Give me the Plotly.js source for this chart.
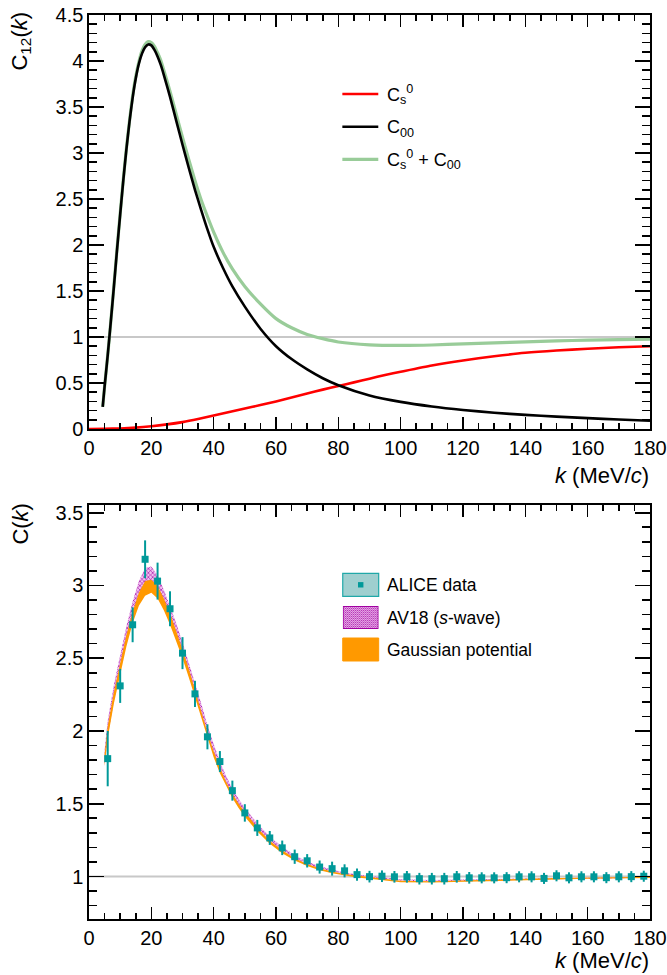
<!DOCTYPE html>
<html>
<head>
<meta charset="utf-8">
<script src="https://cdn.plot.ly/plotly-3.0.1.min.js"></script>
<style>html,body{margin:0;padding:0;background:#fff;}#chart{width:667px;height:975px;}</style>
</head>
<body>
<div id="chart"></div>
<script>
// ---------- Top panel data ----------
const topK = [4.4,5,6,7,8,9,10,11,12,13,14,15,16,17,18,19,20,21,22,23,24,26,28,30,32,34,36,38,40,43,46,50,55,60,65,70,75,80,90,100,110,120,130,140,150,160,170,180];
const c00 = [0.24,0.46,0.80,1.17,1.55,1.95,2.33,2.70,3.04,3.34,3.60,3.81,3.97,4.08,4.15,4.18,4.17,4.12,4.05,3.96,3.85,3.61,3.35,3.09,2.84,2.60,2.38,2.17,1.98,1.75,1.55,1.33,1.09,0.90,0.76,0.648,0.552,0.476,0.365,0.295,0.245,0.207,0.177,0.153,0.135,0.118,0.103,0.09];
const cSum = [0.24,0.46,0.80,1.17,1.56,1.96,2.34,2.71,3.05,3.35,3.62,3.83,3.99,4.11,4.18,4.21,4.20,4.16,4.09,4.01,3.90,3.67,3.42,3.17,2.93,2.70,2.49,2.31,2.14,1.92,1.74,1.55,1.36,1.20,1.10,1.028,0.982,0.946,0.915,0.908,0.913,0.925,0.937,0.948,0.958,0.966,0.972,0.977];
const redK = [0,5,10,15,20,25,30,35,40,45,50,55,60,65,70,75,80,85,90,95,100,110,120,130,140,150,160,170,180];
const cs0 = [0,0.002,0.006,0.015,0.03,0.05,0.075,0.108,0.146,0.185,0.222,0.26,0.30,0.342,0.385,0.428,0.467,0.507,0.547,0.587,0.622,0.69,0.745,0.79,0.828,0.853,0.872,0.888,0.90];

// ---------- Bottom panel data ----------
const bandK = [5,6,8,10,12,14,16,18,20,22,24,26,28,30,32,34,36,38,40,42,44,46,48,50,54,58,62,66,70,74,78,82,86,90,100,110,120,130,140,150,160,170,180];
const gaussLow  = [1.76,1.95,2.19,2.39,2.58,2.74,2.86,2.93,2.95,2.91,2.83,2.73,2.62,2.50,2.37,2.23,2.09,1.95,1.82,1.71,1.62,1.54,1.47,1.41,1.31,1.225,1.16,1.11,1.072,1.043,1.022,1.006,0.994,0.984,0.96,0.958,0.962,0.968,0.974,0.979,0.984,0.987,0.99];
const gaussHigh = [1.84,2.03,2.27,2.47,2.66,2.82,2.95,3.03,3.04,3.00,2.91,2.81,2.69,2.56,2.43,2.28,2.14,1.99,1.86,1.75,1.65,1.57,1.50,1.44,1.335,1.245,1.18,1.125,1.086,1.056,1.034,1.018,1.005,0.995,0.97,0.968,0.972,0.978,0.984,0.989,0.993,0.996,0.998];
const av18Low  = [1.76,1.96,2.21,2.42,2.62,2.79,2.92,3.00,3.01,2.96,2.87,2.77,2.65,2.53,2.40,2.26,2.12,1.98,1.85,1.74,1.645,1.565,1.495,1.435,1.33,1.245,1.18,1.125,1.085,1.055,1.033,1.016,1.003,0.993,0.97,0.965,0.968,0.972,0.977,0.982,0.986,0.989,0.992];
const av18High = [1.87,2.07,2.32,2.52,2.72,2.89,3.03,3.12,3.13,3.07,2.97,2.86,2.74,2.61,2.48,2.33,2.19,2.04,1.91,1.79,1.69,1.605,1.535,1.47,1.365,1.275,1.205,1.148,1.103,1.07,1.047,1.028,1.014,1.004,0.981,0.976,0.979,0.983,0.987,0.99,0.994,0.997,0.999];
const dataK = [6,10,14,18,22,26,30,34,38,42,46,50,54,58,62,66,70,74,78,82,86,90,94,98,102,106,110,114,118,122,126,130,134,138,142,146,150,154,158,162,166,170,174,178,182];
const dataC = [1.81,2.31,2.73,3.18,3.03,2.84,2.535,2.255,1.96,1.79,1.59,1.437,1.334,1.265,1.197,1.136,1.108,1.065,1.054,1.039,1.013,0.999,1.002,0.998,0.998,0.985,0.985,0.985,0.998,0.991,0.991,0.991,0.992,0.998,0.998,0.987,1.005,0.991,0.998,0.998,0.992,0.998,0.999,1.002,1.003];
const dataErr = [0.19,0.117,0.12,0.13,0.127,0.12,0.11,0.09,0.086,0.072,0.069,0.06,0.055,0.048,0.05,0.049,0.046,0.045,0.048,0.045,0.042,0.04,0.04,0.04,0.04,0.04,0.04,0.04,0.04,0.04,0.038,0.038,0.038,0.038,0.038,0.038,0.038,0.038,0.038,0.038,0.038,0.038,0.038,0.038,0.038];
const refLevel = 1;

const xTickVals = [0,20,40,60,80,100,120,140,160,180];
const topLegend = ['C<sub>s</sub><sup>0</sup>', 'C<sub>00</sub>', 'C<sub>s</sub><sup>0</sup> + C<sub>00</sub>'];
const bottomLegend = ['ALICE data', 'AV18 (<i>s</i>-wave)', 'Gaussian potential'];

// ---------- styles ----------
const FONT = 'Liberation Sans, Arial, Helvetica, sans-serif';
const TEAL = '#009999';
const ORANGE = '#ff9900';
const GREEN = '#99cc99';

function band(k, lo, hi) {
  return { x: k.concat(k.slice().reverse()), y: lo.concat(hi.slice().reverse()) };
}
const gBand = band(bandK, gaussLow, gaussHigh);
const aBand = band(bandK, av18Low, av18High);

const traces = [
  { x: topK, y: cSum, xaxis: 'x', yaxis: 'y', mode: 'lines', line: { color: GREEN, width: 3.2, shape: 'spline', smoothing: 0.6 }, showlegend: false, name: 'Cs0 + C00' },
  { x: redK, y: cs0, xaxis: 'x', yaxis: 'y', mode: 'lines', line: { color: '#ff0000', width: 2.6, shape: 'spline', smoothing: 0.6 }, showlegend: false, name: 'Cs0' },
  { x: topK, y: c00, xaxis: 'x', yaxis: 'y', mode: 'lines', line: { color: '#000000', width: 2.6, shape: 'spline', smoothing: 0.6 }, showlegend: false, name: 'C00' },
  { x: aBand.x, y: aBand.y, xaxis: 'x2', yaxis: 'y2', mode: 'lines', fill: 'toself', line: { width: 0, color: '#b030b0' },
    fillcolor: '#f0b8f0', fillpattern: { shape: 'x', fgcolor: '#a000a0', bgcolor: '#f0c0f0', size: 3, solidity: 0.35 }, showlegend: false, name: 'AV18' },
  { x: gBand.x, y: gBand.y, xaxis: 'x2', yaxis: 'y2', mode: 'lines', fill: 'toself', line: { width: 0, color: ORANGE }, fillcolor: ORANGE, showlegend: false, name: 'Gaussian' },
  { x: dataK, y: dataC, xaxis: 'x2', yaxis: 'y2', mode: 'markers', marker: { symbol: 'square', size: 7, color: TEAL },
    error_y: { type: 'data', array: dataErr, color: TEAL, thickness: 2, width: 0 }, showlegend: false, name: 'ALICE data' }
];

const L = 88.5, R = 16.5, T = 15, B = 56, W = 667, H = 975;
const PW = W - L - R, PH = H - T - B;
const px = (x) => (x - L) / PW;
const py = (y) => (H - B - y) / PH;

function xAxis(anchor) {
  return { anchor: anchor, domain: [0, 1], range: [0, 180], tickvals: xTickVals, ticks: 'inside', ticklen: 12, tickwidth: 1.6,
    tickcolor: '#000', showline: true, linewidth: 1.6, linecolor: '#000', mirror: 'ticks', showgrid: false, zeroline: false,
    tickfont: { family: FONT, size: 20, color: '#000' },
    minor: { dtick: 5, tick0: 0, ticks: 'inside', ticklen: 6, tickwidth: 1.6, tickcolor: '#000', showgrid: false } };
}
function yAxis(anchor, domain, range) {
  return { anchor: anchor, domain: domain, range: range, tick0: 0, dtick: 0.5, ticks: 'inside', ticklen: 15, tickwidth: 1.6,
    tickcolor: '#000', showline: true, linewidth: 1.6, linecolor: '#000', mirror: 'ticks', showgrid: false, zeroline: false,
    tickfont: { family: FONT, size: 20, color: '#000' },
    minor: { dtick: 0.1, tick0: 0, ticks: 'inside', ticklen: 8, tickwidth: 1.6, tickcolor: '#000', showgrid: false } };
}

const shapes = [
  { type: 'line', xref: 'x domain', yref: 'y', x0: 0, x1: 1, y0: refLevel, y1: refLevel, line: { color: '#c8c8c8', width: 2 }, layer: 'below' },
  { type: 'line', xref: 'x2 domain', yref: 'y2', x0: 0, x1: 1, y0: refLevel, y1: refLevel, line: { color: '#c8c8c8', width: 2 }, layer: 'below' }
];
// top legend lines
const topLegY = [94, 126.7, 159.3];
const topLegColors = ['#ff0000', '#000000', GREEN];
topLegY.forEach((y, i) => shapes.push({ type: 'line', xref: 'paper', yref: 'paper', x0: px(342.3), x1: px(378.3), y0: py(y), y1: py(y),
  line: { color: topLegColors[i], width: i === 2 ? 3.2 : 2.6 } }));
// bottom legend boxes
const boxTop = [573.3, 606, 638];
const boxH = 23;
shapes.push({ type: 'rect', xref: 'paper', yref: 'paper', x0: px(342.7), x1: px(378.7), y0: py(boxTop[0] + boxH), y1: py(boxTop[0]),
  fillcolor: '#9fcfcf', line: { color: '#20a8a8', width: 1.2 } });
shapes.push({ type: 'rect', xref: 'paper', yref: 'paper', x0: px(358), x1: px(363.4), y0: py(boxTop[0] + 14.2), y1: py(boxTop[0] + 8.8),
  fillcolor: TEAL, line: { width: 0 } });
shapes.push({ type: 'rect', xref: 'paper', yref: 'paper', x0: px(342.7), x1: px(378.7), y0: py(boxTop[2] + boxH), y1: py(boxTop[2]),
  fillcolor: ORANGE, line: { color: ORANGE, width: 1 } });

const patSvg = "<svg xmlns='http://www.w3.org/2000/svg' width='36' height='23' viewBox='0 0 36 23'>" +
  "<defs><pattern id='p' width='2' height='2' patternUnits='userSpaceOnUse'>" +
  "<rect width='2' height='2' fill='#f4d0f4'/><rect width='1' height='1' fill='#a000a0'/><rect x='1' y='1' width='1' height='1' fill='#c040c0'/>" +
  "</pattern></defs><rect x='0.5' y='0.5' width='35' height='22' fill='url(#p)' stroke='#a000a0' stroke-width='1'/></svg>";
const images = [{ source: 'data:image/svg+xml;charset=utf-8,' + encodeURIComponent(patSvg), xref: 'paper', yref: 'paper',
  x: px(342.7), y: py(boxTop[1]), sizex: 36 / PW, sizey: boxH / PH, xanchor: 'left', yanchor: 'top', sizing: 'stretch', layer: 'above' }];

const titleFont = { family: FONT, size: 22, color: '#000' };
const legFont = { family: FONT, size: 18, color: '#000' };
const annotations = [
  { text: 'C<sub>12</sub>(<i>k</i>)', xref: 'paper', yref: 'paper', x: px(20), y: py(41), xanchor: 'center', yanchor: 'middle', textangle: -90, showarrow: false, font: titleFont },
  { text: 'C(<i>k</i>)', xref: 'paper', yref: 'paper', x: px(19), y: py(524), xanchor: 'center', yanchor: 'middle', textangle: -90, showarrow: false, font: titleFont },
  { text: '<i>k</i> (MeV/<i>c</i>)', xref: 'paper', yref: 'paper', x: 1.002, y: py(475), xanchor: 'right', yanchor: 'middle', showarrow: false, font: titleFont },
  { text: '<i>k</i> (MeV/<i>c</i>)', xref: 'paper', yref: 'paper', x: 1.002, y: py(960), xanchor: 'right', yanchor: 'middle', showarrow: false, font: titleFont }
];
topLegend.forEach((t, i) => annotations.push({ text: t, xref: 'paper', yref: 'paper', x: px(385), y: py(topLegY[i] + (i === 1 ? 2 : 0)), xanchor: 'left', yanchor: 'middle', showarrow: false, font: legFont }));
bottomLegend.forEach((t, i) => annotations.push({ text: t, xref: 'paper', yref: 'paper', x: px(385), y: py(boxTop[i] + boxH / 2), xanchor: 'left', yanchor: 'middle', showarrow: false, font: { family: FONT, size: 17.5, color: '#000' } }));

const layout = {
  width: W, height: H, margin: { l: L, r: R, t: T, b: B },
  paper_bgcolor: '#fff', plot_bgcolor: '#fff', showlegend: false,
  font: { family: FONT, color: '#000' },
  xaxis: xAxis('y'),
  yaxis: yAxis('x', [py(429), 1], [0, 4.5]),
  xaxis2: xAxis('y2'),
  yaxis2: yAxis('x2', [0, py(505)], [0.708, 3.553]),
  shapes: shapes, images: images, annotations: annotations
};

Plotly.newPlot('chart', traces, layout, { staticPlot: true, displayModeBar: false });
</script>
</body>
</html>
